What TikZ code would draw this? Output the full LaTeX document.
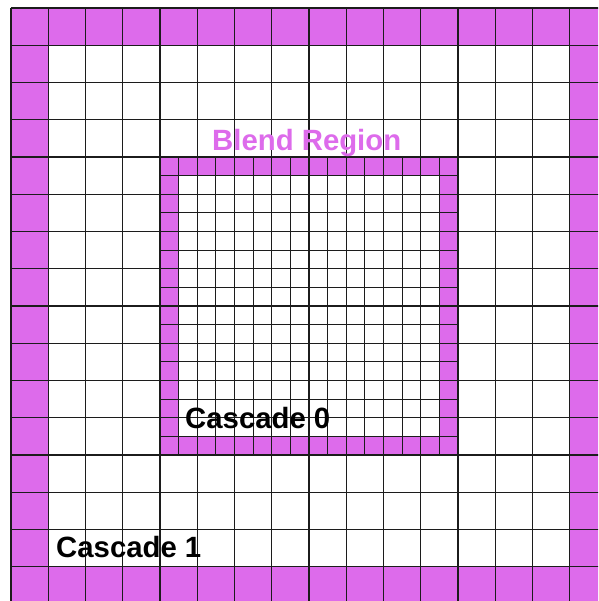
\documentclass[tikz,border=0pt]{standalone}
\usepackage{fontspec}
\setsansfont{Liberation Sans}
\usepackage{xcolor}
\definecolor{blendPink}{HTML}{DD6BEB}
\definecolor{lineDark}{HTML}{1C1C1C}
\usepackage{tikz}
\usetikzlibrary{positioning}
\tikzset{
    % Blend cells along the border of a cascade
    blend ring/.style={
        fill=blendPink,
        even odd rule,
    },
    % Coarse grid of cascade 1
    coarse grid/.style={
        draw=lineDark,
        line width=0.95pt,
    },
    % Fine grid of cascade 0
    fine grid/.style={
        draw=lineDark,
        line width=0.7pt,
    },
    % Labels
    cascade label/.style={
        font=\sffamily\bfseries\fontsize{22.4}{27}\selectfont,
        text=black,
        inner sep=0pt,
        anchor=base west,
    },
    blend label/.style={
        cascade label,
        text=blendPink,
    },
}

\begin{document}
\begin{tikzpicture}[x=1cm, y=1cm]
    \useasboundingbox (-0.295,0.08) rectangle (15.76,16.215);
    \clip (-0.295,0.08) rectangle (15.76,16.215);

    % blend regions
    \fill[blend ring] (0,0) rectangle (16,16) (1,1) rectangle (15,15);
    \fill[blend ring] (4,4) rectangle (12,12) (4.5,4.5) rectangle (11.5,11.5);

    % grids
    \draw[fine grid, step=0.5] (4,4) grid (12,12);
    \draw[coarse grid, step=1] (0,0) grid (16,16);

    % labels
    \node (blend) [blend label] at (5.396,12.169) {Blend Region};
    \node (cascade0) [cascade label] at (4.671,4.698) {Cascade 0};
    \node (cascade1) [cascade label] at (1.208,1.243) {Cascade 1};
\end{tikzpicture}
\end{document}
